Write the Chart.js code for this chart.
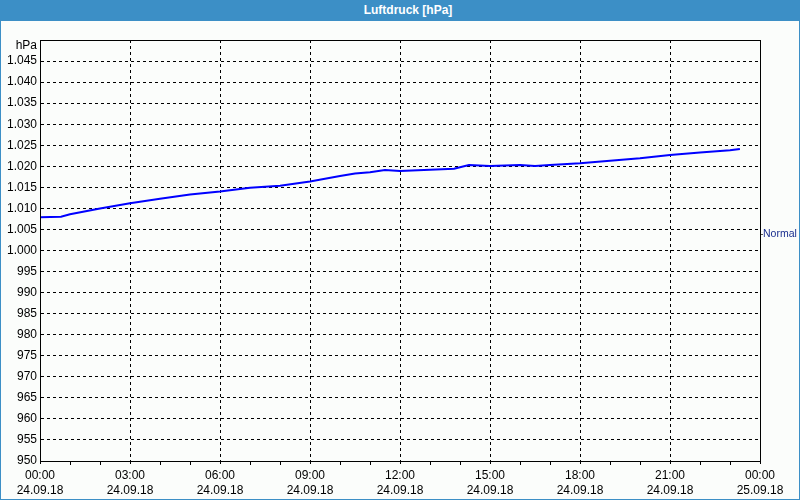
<!DOCTYPE html>
<html>
<head>
<meta charset="utf-8">
<script src="https://cdn.jsdelivr.net/npm/chart.js@4"></script>
<style>
  html, body { margin: 0; padding: 0; }
  body { width: 800px; height: 500px; background: #3c8fc6; position: relative; overflow: hidden; font-family: "Liberation Sans", Arial, sans-serif; }
  #title { position: absolute; left: 0; top: 0; width: 800px; height: 21px; line-height: 21px; text-align: center; color: #fff; font-weight: bold; font-size: 12px; padding-left: 16px; box-sizing: border-box; }
  #chart { position: absolute; left: 1px; top: 21px; background: #fbfdfb; }
</style>
</head>
<body>
<div id="title">Luftdruck [hPa]</div>
<canvas id="chart" width="798" height="478" style="width:798px;height:478px"></canvas>
<script>
// hours since 24.09.18 00:00
const hours = [0, 0.7, 1, 2, 3, 4, 5, 6, 7, 8, 9, 10, 10.5, 11, 11.5, 12, 13, 13.8, 14.3, 15, 16, 16.5, 17, 18, 19, 20, 21, 22, 23, 23.33];
const pressure = [1007.9, 1008.0, 1008.6, 1010.0, 1011.2, 1012.3, 1013.3, 1014.0, 1014.9, 1015.4, 1016.4, 1017.7, 1018.3, 1018.6, 1019.1, 1018.9, 1019.2, 1019.4, 1020.3, 1020.1, 1020.3, 1020.1, 1020.3, 1020.7, 1021.3, 1021.9, 1022.7, 1023.3, 1023.8, 1024.1];

const tickHours = [0, 3, 6, 9, 12, 15, 18, 21, 24];
const timeLabels = ['00:00', '03:00', '06:00', '09:00', '12:00', '15:00', '18:00', '21:00', '00:00'];
const dateLabels = ['24.09.18', '24.09.18', '24.09.18', '24.09.18', '24.09.18', '24.09.18', '24.09.18', '24.09.18', '25.09.18'];

const yMin = 950, yMax = 1050, yStep = 5;
const normalValue = 1003.9;

Chart.defaults.font.family = '"Liberation Sans", Arial, sans-serif';
Chart.defaults.font.size = 12;
Chart.defaults.color = '#000';

function fmtHpa(v) {
  if (v >= 1000) return '1.' + String(v).slice(1);
  return String(v);
}

// solid frame, hourly minor ticks and unit label
const frame = {
  id: 'frame',
  afterDraw(chart) {
    const { ctx, chartArea: a, scales: { x } } = chart;
    ctx.save();
    ctx.strokeStyle = '#000';
    ctx.lineWidth = 1;
    ctx.setLineDash([]);
    ctx.strokeRect(Math.round(a.left) + 0.5, Math.round(a.top) + 0.5,
      Math.round(a.right) - Math.round(a.left), Math.round(a.bottom) - Math.round(a.top));
    ctx.beginPath();
    for (let h = 1; h < 24; h++) {
      if (h % 3 === 0) continue;
      const px = Math.round(x.getPixelForValue(h)) + 0.5;
      ctx.moveTo(px, Math.round(a.bottom));
      ctx.lineTo(px, Math.round(a.bottom) + 4);
    }
    ctx.stroke();
    ctx.fillStyle = '#000';
    ctx.font = '12px "Liberation Sans", Arial, sans-serif';
    ctx.textAlign = 'right';
    ctx.textBaseline = 'middle';
    ctx.fillText('hPa', a.left - 3, a.top + 6);
    ctx.restore();
  }
};

new Chart(document.getElementById('chart'), {
  type: 'line',
  data: {
    datasets: [{
      label: 'Luftdruck',
      data: hours.map((h, i) => ({ x: h, y: pressure[i] })),
      borderColor: '#0000ff',
      borderWidth: 2,
      pointRadius: 0,
      tension: 0,
      yAxisID: 'y'
    }]
  },
  options: {
    responsive: false,
    animation: false,
    layout: { padding: { top: 19, left: 0, right: 0, bottom: 0 } },
    plugins: { legend: { display: false }, tooltip: { enabled: false } },
    scales: {
      x: {
        type: 'linear',
        min: 0,
        max: 24,
        afterFit: s => { s.height = 38; },
        afterBuildTicks: s => { s.ticks = tickHours.map(v => ({ value: v })); },
        ticks: {
          padding: 4,
          maxRotation: 0,
          autoSkip: false,
          font: { lineHeight: 1.25 },
          callback: (v, i) => [timeLabels[i], dateLabels[i]]
        },
        grid: { color: '#000', tickLength: 3 },
        border: { color: '#000', dash: [3, 3] }
      },
      y: {
        min: yMin,
        max: yMax,
        afterFit: s => { s.width = 39; },
        ticks: {
          stepSize: yStep,
          padding: 3,
          callback: v => (v === yMax ? '' : fmtHpa(v))
        },
        grid: { color: '#000', drawTicks: false },
        border: { color: '#000', dash: [3, 3] }
      },
      y2: {
        position: 'right',
        min: yMin,
        max: yMax,
        afterFit: s => { s.width = 39; },
        afterBuildTicks: s => { s.ticks = [{ value: normalValue }]; },
        ticks: { color: '#1a2f8f', padding: 0, font: { size: 10.5 }, callback: () => 'Normal' },
        grid: { drawOnChartArea: false, tickLength: 3, color: '#555' },
        border: { display: false }
      }
    }
  },
  plugins: [frame]
});
</script>
</body>
</html>
